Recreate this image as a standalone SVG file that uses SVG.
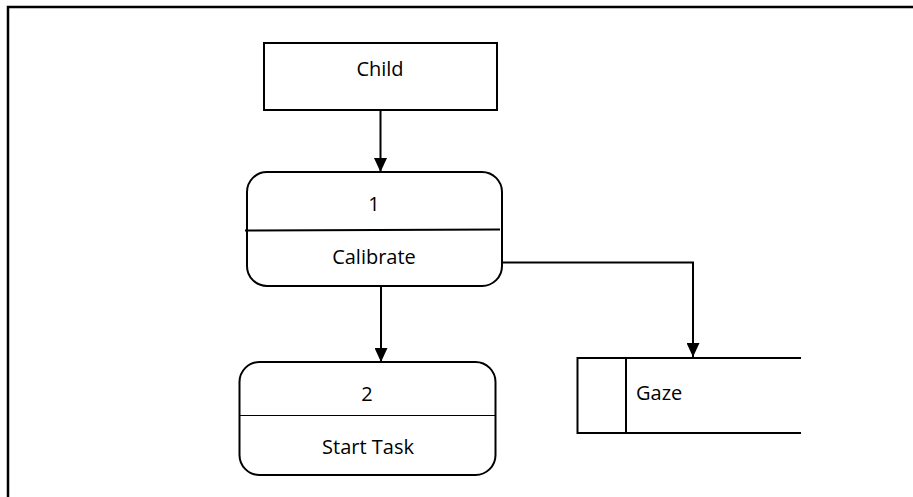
<svg xmlns="http://www.w3.org/2000/svg" width="913" height="497" viewBox="0 0 913 497">
  <style>
    .box { fill: #fff; stroke: #000; stroke-width: 2; }
    .ln { fill: none; stroke: #000; stroke-width: 2; }
    .thin { fill: none; stroke: #000; stroke-width: 1; }
    .flow { fill: none; stroke: #000; stroke-width: 2; marker-end: url(#arrow); }
    .lbl { font-family: "Open Sans", "Noto Sans", sans-serif; font-size: 20px; fill: #000; }
    .mid { text-anchor: middle; }
  </style>
  <defs>
    <marker id="arrow" markerWidth="14" markerHeight="13" refX="14" refY="6.5" orient="auto" markerUnits="userSpaceOnUse" viewBox="0 0 14 13">
      <path d="M0,0 L14,6.5 L0,13 Z" fill="#000"/>
    </marker>
  </defs>
  <rect width="913" height="497" fill="#fff"/>

  <!-- page frame -->
  <path d="M8,497 V7 H913" fill="none" stroke="#000" stroke-width="2.5"/>

  <g id="connectors">
    <path class="flow" d="M380.5,110 V172"/>
    <path class="flow" d="M381,287 V362"/>
    <path class="flow" d="M502,262.5 H693 V357"/>
  </g>

  <g id="child">
    <rect class="box" x="264" y="43" width="233" height="67"/>
    <text class="lbl mid" x="380" y="75.5">Child</text>
  </g>

  <g id="calibrate">
    <rect class="box" x="247" y="172" width="255" height="114" rx="20" ry="20"/>
    <path class="ln" d="M245,230.5 L500,229.5"/>
    <text class="lbl mid" x="374" y="211">1</text>
    <text class="lbl mid" x="374" y="264">Calibrate</text>
  </g>

  <g id="start-task">
    <rect class="box" x="239.5" y="362" width="256" height="113" rx="20" ry="20"/>
    <path class="thin" d="M240,415.5 H495"/>
    <text class="lbl mid" x="367" y="400.5">2</text>
    <text class="lbl mid" x="368" y="454">Start Task</text>
  </g>

  <g id="gaze">
    <path class="ln" d="M801,358 H577.5 V433 H801"/>
    <path class="ln" d="M626,358 V433"/>
    <text class="lbl" x="636" y="400">Gaze</text>
  </g>
</svg>
